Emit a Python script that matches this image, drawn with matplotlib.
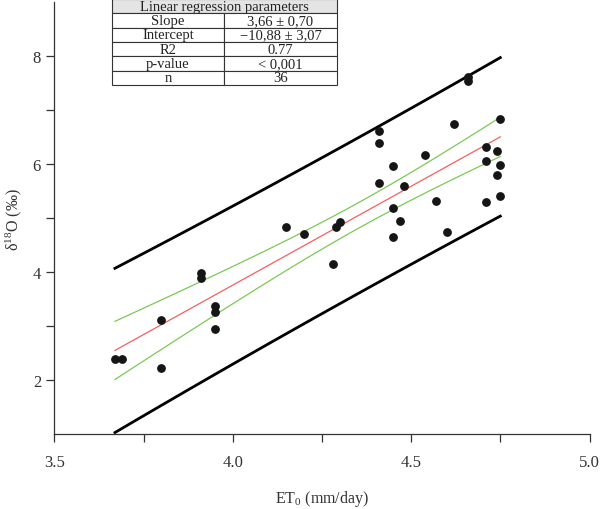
import numpy as np
import matplotlib
matplotlib.use('Agg')
import matplotlib.pyplot as plt

# measured points: ET0 (mm/day) vs d18O (permil)
et0 = [3.67, 3.69, 3.80, 3.80, 3.95, 3.95, 3.95, 3.91, 3.91, 4.15,
       4.20, 4.28, 4.29, 4.30, 4.41, 4.41, 4.41, 4.45, 4.45, 4.45,
       4.47, 4.48, 4.54, 4.57, 4.60, 4.62, 4.66, 4.66, 4.71, 4.71,
       4.71, 4.74, 4.74, 4.75, 4.75, 4.75]
d18o = [2.40, 2.40, 3.12, 2.23, 3.37, 3.26, 2.94, 3.99, 3.89, 4.83,
        4.70, 4.15, 4.83, 4.93, 6.62, 6.39, 5.65, 5.97, 5.19, 4.65,
        4.94, 5.59, 6.17, 5.31, 4.75, 6.74, 7.61, 7.53, 6.31, 6.05,
        5.30, 6.25, 5.80, 6.84, 5.99, 5.41]

slope = 3.66
intercept = -10.88
t_95 = 2.032  # student t, df = 34

table_header = "Linear regression parameters"
table_rows = [["Slope", "3,66 ± 0,70"],
              ["Intercept", "\u221210,88 ± 3,07"],
              ["R2", "0.77"],
              ["p-value", "< 0,001"],
              ["n", "36"]]

plt.rcParams['font.family'] = ['Liberation Serif', 'DejaVu Serif']
plt.rcParams['mathtext.fontset'] = 'custom'
plt.rcParams['mathtext.rm'] = 'Liberation Serif'
plt.rcParams['mathtext.it'] = 'Liberation Serif:italic'

x = np.array(et0)
y = np.array(d18o)
n = len(x)
xbar = x.mean()
sxx = ((x - xbar) ** 2).sum()
resid = y - (intercept + slope * x)
s = np.sqrt((resid ** 2).sum() / (n - 2))

xs = np.linspace(x.min(), x.max(), 100)
fit = intercept + slope * xs
conf = t_95 * s * np.sqrt(1.0 / n + (xs - xbar) ** 2 / sxx)
pred = t_95 * s * np.sqrt(1.0 + 1.0 / n + (xs - xbar) ** 2 / sxx)

fig = plt.figure(figsize=(6, 5.1), dpi=100)
ax = fig.add_axes([0.0905, 0.1465, 0.892, 0.8475])

ax.plot(xs, fit + pred, color='black', lw=2.0)
ax.plot(xs, fit - pred, color='black', lw=2.0)
ax.plot(xs, fit + conf, color='#7cc855', lw=0.9)
ax.plot(xs, fit - conf, color='#7cc855', lw=0.9)
ax.plot(xs, fit, color='#f26060', lw=0.9)
ax.scatter(x, y, s=28, color='#151515', zorder=5)

ax.set_xlim(3.5, 5.0)
ax.set_ylim(1, 9)
ax.set_xticks([3.5, 4.0, 4.5, 5.0])
ax.set_xticks([3.75, 4.25, 4.75], minor=True)
ax.set_yticks([2, 4, 6, 8])
ax.set_yticks([3, 5, 7], minor=True)
ax.set_xticklabels(['3.5', '4.0', '4.5', '5.0'])
ax.spines['top'].set_visible(False)
ax.spines['right'].set_visible(False)
for sp in ['left', 'bottom']:
    ax.spines[sp].set_color('#333333')
    ax.spines[sp].set_linewidth(0.9)
ax.tick_params(which='both', direction='out', length=6, width=0.9,
               color='#333333', labelsize=12, labelcolor='#333333')
ax.tick_params(axis='x', pad=8)
ax.set_xlabel(r'ET$_\mathregular{0}$ (mm/day)', fontsize=11.5, color='#333333', labelpad=13)
ax.set_ylabel(r'$\mathregular{\delta^{18}}$O (‰)', fontsize=11.5, color='#333333', labelpad=6)

# table above the plot
x0 = 0.107
w = 0.421
row_h = 0.0331
top = 1.007
head = ax.table(cellText=[[table_header]], cellLoc='center',
                bbox=[x0, top - row_h, w, row_h])
body = ax.table(cellText=table_rows, cellLoc='center',
                bbox=[x0, top - 6 * row_h, w, 5 * row_h])
for tb in (head, body):
    tb.auto_set_font_size(False)
    for (r, c), cell in tb.get_celld().items():
        cell.set_edgecolor('#333333')
        cell.set_linewidth(0.8)
        cell.get_text().set_fontsize(10.5)
        cell.get_text().set_color('#222222')
head[0, 0].set_facecolor('#e4e4e4')

fig.savefig('out.png', dpi=100)
